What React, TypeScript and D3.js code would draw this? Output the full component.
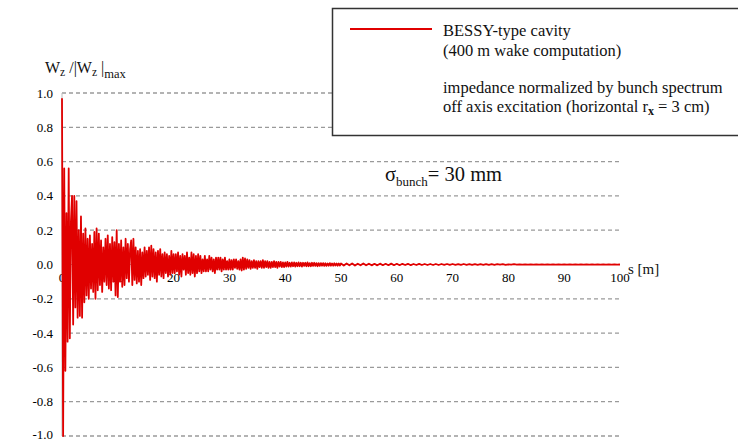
import React, { useEffect, useRef } from "react";
import * as d3 from "d3";

// wake samples, three segments with different spacing
const nearStart = 0, nearStep = 0.2;
const wakeNear = [
  0.97, -1.0, 0.56, -0.62, 0.30, -0.45, 0.56, -0.43, 0.25, 0.40,
  -0.35, 0.40, -0.25, 0.37, -0.31, 0.20, -0.30, 0.28, -0.31, 0.18,
  -0.22, 0.21, -0.18, 0.15, -0.20, 0.17, -0.14, 0.12, -0.16, 0.19,
  -0.20, 0.21, -0.15, 0.18, -0.12, 0.14, -0.16, 0.10, -0.10, 0.15,
  -0.12, 0.17, -0.14, 0.12, -0.15, 0.16, -0.10, 0.13, -0.18, 0.20,
  -0.19, 0.12, -0.10, 0.14, -0.13, 0.10, -0.12, 0.15, -0.08, 0.12,
  -0.10, 0.09, 0.14, -0.12, 0.15, -0.09, 0.10, -0.11, 0.08, -0.10,
  0.09, -0.12, 0.07, -0.08, 0.10, -0.07, 0.08, -0.06, 0.10, -0.09,
  0.11, -0.07, 0.09, -0.08, 0.07, -0.10, 0.08, -0.06, 0.09, -0.07,
  0.06, -0.08, 0.07, -0.05, 0.06, -0.07, 0.05, -0.06, 0.08, -0.05,
  0.06,
];
const midStart = 20.2, midStep = 0.2;
const wakeMid = [
  -0.05, 0.06, -0.04, 0.07, -0.06, 0.05, -0.07, 0.06, -0.03, 0.05,
  -0.06, 0.07, -0.05, 0.04, -0.06, 0.07, -0.05, 0.06, -0.07, 0.05,
  -0.05, 0.06, -0.04, 0.05, -0.05, 0.03, -0.04, 0.05, -0.04, 0.03,
  -0.04, 0.05, -0.03, 0.04, -0.04, 0.03, -0.05, 0.04, -0.03, 0.04,
  -0.03, 0.04, -0.04, 0.03, -0.03, 0.04, -0.03, 0.02, -0.03, 0.03,
  -0.03, 0.025, -0.03, 0.03, -0.02, 0.03, -0.025, 0.02, -0.03, 0.03,
  -0.035, 0.04, -0.03, 0.035, -0.025, 0.03, -0.02, 0.025, -0.025, 0.02,
  -0.02, 0.025, -0.02, 0.02, -0.025, 0.02, -0.015, 0.02, -0.02, 0.025,
  -0.02, 0.02, -0.015, 0.02, -0.02, 0.015, -0.02, 0.015, -0.015, 0.02,
  -0.015, 0.015, -0.02, 0.015, -0.012, 0.015, -0.015, 0.012, -0.015, 0.012,
  -0.012, 0.015, -0.012, 0.01, -0.012, 0.012, -0.01, 0.012, -0.012, 0.01,
  -0.01, 0.012, -0.01, 0.01, -0.012, 0.01, -0.008, 0.01, -0.01, 0.012,
  -0.01, 0.008, -0.01, 0.01, -0.008, 0.01, -0.008, 0.008, -0.01, 0.008,
  -0.008, 0.008, -0.007, 0.008, -0.008, 0.007, -0.008, 0.006, -0.007, 0.008,
  -0.007, 0.006, -0.007, 0.007, -0.006, 0.006, -0.007, 0.006, -0.006, 0.006,
];
const farStart = 50.5, farStep = 0.5;
const wakeFar = [
  -0.006, 0.006, -0.005, 0.006, -0.006, 0.005, -0.005, 0.006, -0.005, 0.005,
  -0.005, 0.004, -0.005, 0.005, -0.004, 0.004, -0.004, 0.005, -0.004, 0.004,
  -0.004, 0.004, -0.003, 0.004, -0.004, 0.003, -0.003, 0.004, -0.003, 0.003,
  -0.003, 0.003, -0.003, 0.003, -0.003, 0.003, -0.002, 0.003, -0.002, 0.003,
  -0.002, 0.002, -0.002, 0.003, -0.002, 0.002, -0.002, 0.002, -0.002, 0.002,
  -0.002, 0.002, -0.002, 0.002, -0.002, 0.002, -0.001, 0.002, -0.002, 0.001,
  -0.001, 0.002, -0.001, 0.001, -0.001, 0.001, -0.001, 0.001, -0.001, 0.001,
  -0.001, 0.001, -0.001, 0.001, -0.001, 0.001, -0.001, 0.001, -0.001, 0.001,
  -0.001, 0.001, -0.001, 0.001, -0.001, 0.001, -0.001, 0.001, -0.001, 0.001,
  -0.001, 0.001, -0.001, 0.001, -0.001, 0.001, -0.001, 0.001, -0.001, 0.0,
];

const xTicks = [0, 10, 20, 30, 40, 50, 60, 70, 80, 90, 100];
const yTicks = [1.0, 0.8, 0.6, 0.4, 0.2, 0.0, -0.2, -0.4, -0.6, -0.8, -1.0];

const width = 738;
const height = 441;
const serif = "Liberation Serif, serif";
const red = "#e00000";

export default function App() {
  const ref = useRef<SVGGElement>(null);

  useEffect(() => {
    const g = d3.select(ref.current);
    g.selectAll("*").remove();

    const x = d3.scaleLinear().domain([0, 100]).range([62, 620]);
    const y = d3.scaleLinear().domain([-1, 1]).range([436, 93]);

    // grid
    g.append("g")
      .selectAll("line")
      .data(yTicks.filter(d => d !== 0))
      .enter().append("line")
      .attr("x1", x(0)).attr("x2", x(100))
      .attr("y1", d => y(d)).attr("y2", d => y(d))
      .attr("stroke", "#9a9a9a")
      .attr("stroke-width", 1.3)
      .attr("stroke-dasharray", "4,3");

    // axes
    g.append("line")
      .attr("x1", x(0)).attr("x2", x(100))
      .attr("y1", y(0)).attr("y2", y(0))
      .attr("stroke", "#aaa");
    g.append("line")
      .attr("x1", x(0)).attr("x2", x(0))
      .attr("y1", y(1)).attr("y2", y(-1))
      .attr("stroke", "#bbb");

    g.append("g")
      .selectAll("text")
      .data(yTicks)
      .enter().append("text")
      .attr("x", 53)
      .attr("y", d => y(d) + (d === -1 ? 3 : 4.5))
      .attr("text-anchor", "end")
      .style("font-family", serif)
      .style("font-size", "13px")
      .attr("fill", "#000")
      .text(d => d3.format(".1f")(d).replace("−", "-"));

    g.append("g")
      .selectAll("text")
      .data(xTicks)
      .enter().append("text")
      .attr("x", d => x(d))
      .attr("y", y(0) + 17)
      .attr("text-anchor", "middle")
      .style("font-family", serif)
      .style("font-size", "13px")
      .attr("fill", "#000")
      .text(d => d);

    // the wake
    const pts: [number, number][] = [];
    wakeNear.forEach((v, i) => pts.push([nearStart + i * nearStep, v]));
    wakeMid.forEach((v, i) => pts.push([midStart + i * midStep, v]));
    wakeFar.forEach((v, i) => pts.push([farStart + i * farStep, v]));

    const line = d3.line<[number, number]>()
      .x(d => x(d[0]))
      .y(d => y(d[1]));

    g.append("path")
      .datum(pts)
      .attr("d", line)
      .attr("fill", "none")
      .attr("stroke", red)
      .attr("stroke-width", 1.8)
      .attr("stroke-linejoin", "round");
  }, []);

  return (
    <svg width={width} height={height}
      style={{ position: "absolute", left: 0, top: 0, background: "white" }}>
      <g ref={ref} />

      {/* axis titles */}
      <text x={45} y={73} fontFamily={serif} fontSize={16} fill="#111">
        W<tspan fontSize={11.5} dy={3}>z</tspan>
        <tspan dy={-3}> /|W</tspan>
        <tspan fontSize={11.5} dy={3}>z</tspan>
        <tspan dy={-3}> |</tspan>
        <tspan fontSize={12.5} dy={5}>max</tspan>
      </text>
      <text x={628} y={274} fontFamily={serif} fontSize={15} fill="#111">s [m]</text>

      <text x={385} y={181} fontFamily={serif} fontSize={20.5} fill="#111">
        σ<tspan fontSize={13} dy={5}>bunch</tspan>
        <tspan dy={-5}>= 30 mm</tspan>
      </text>

      {/* legend */}
      <rect x={332.5} y={8.5} width={420} height={127} fill="white" stroke="#333" strokeWidth={1.5} />
      <line x1={350} x2={432} y1={29} y2={29} stroke={red} strokeWidth={2} />
      <g fontFamily={serif} fontSize={16.5} fill="#111">
        <text x={443} y={36}>BESSY-type cavity</text>
        <text x={443} y={56}>(400 m wake computation)</text>
        <text x={443} y={93}>impedance normalized by bunch spectrum</text>
        <text x={443} y={112}>
          off axis excitation (horizontal r<tspan fontSize={12} dy={3} fontWeight="bold">x</tspan>
          <tspan dy={-3}>  = 3 cm)</tspan>
        </text>
      </g>
    </svg>
  );
}
